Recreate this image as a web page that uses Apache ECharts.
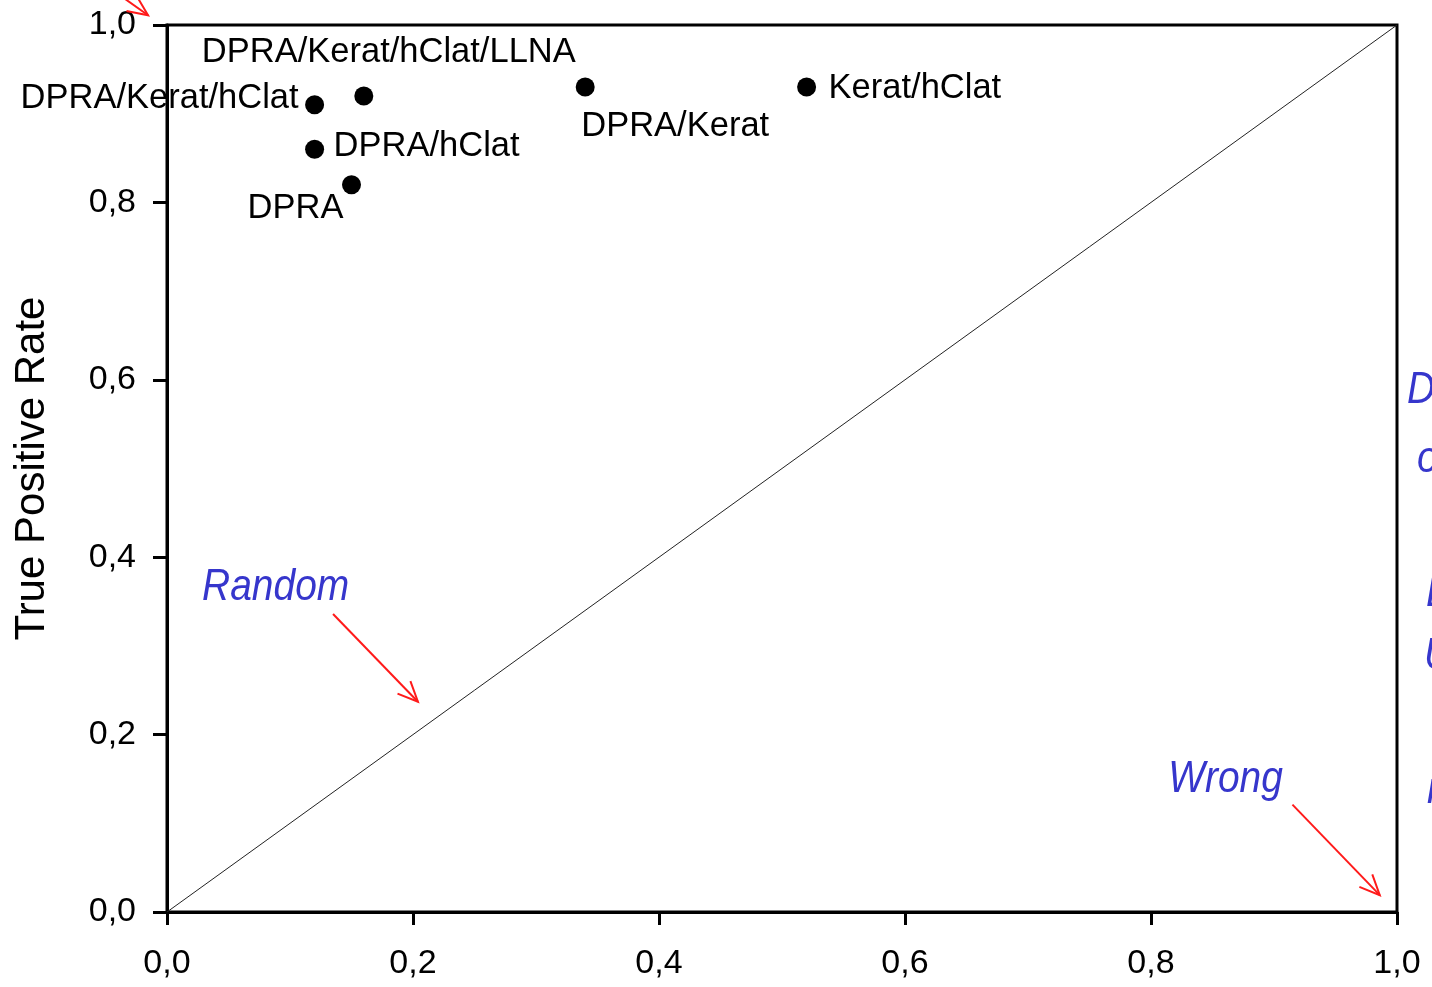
<!DOCTYPE html>
<html>
<head>
<meta charset="utf-8">
<script src="https://cdn.jsdelivr.net/npm/echarts@6/dist/echarts.min.js"></script>
<style>
html,body{margin:0;padding:0;background:#fff;}
#chart{width:1432px;height:987px;}
</style>
</head>
<body>
<div id="chart"></div>
<script>
// ---- data ----
const names = ['DPRA', 'DPRA/hClat', 'DPRA/Kerat/hClat', 'DPRA/Kerat/hClat/LLNA', 'DPRA/Kerat', 'Kerat/hClat'];
const fpr = [0.15, 0.12, 0.12, 0.16, 0.34, 0.52];
const tpr = [0.82, 0.86, 0.91, 0.92, 0.93, 0.93];
const diagonalX = [0, 1];
const diagonalY = [0, 1];
const xTicks = [0, 0.2, 0.4, 0.6, 0.8, 1.0];
const yTicks = [0, 0.2, 0.4, 0.6, 0.8, 1.0];
const yAxisTitle = 'True Positive Rate';
const annotationTexts = ['Random', 'Wrong'];
const annotationTextPos = [[0.0285, 0.365], [0.814, 0.149]];
const arrowFrom = [[0.135, 0.336], [0.915, 0.121], [-0.05, 1.045]];
const arrowTo = [[0.204, 0.237], [0.986, 0.019], [-0.0154, 1.011]];

// ---- label placement (style) ----
const labelStyle = {
  'DPRA': {align: 'center', offset: [-56, 24]},
  'DPRA/hClat': {align: 'left', offset: [19, -3]},
  'DPRA/Kerat/hClat': {align: 'right', offset: [-16, -6]},
  'DPRA/Kerat/hClat/LLNA': {align: 'center', offset: [25, -43]},
  'DPRA/Kerat': {align: 'center', offset: [90, 39]},
  'Kerat/hClat': {align: 'left', offset: [22, 1]}
};

const fmt = v => v.toFixed(1).replace('.', ',');
const FONT = '"Liberation Sans", Arial, sans-serif';

const chart = echarts.init(document.getElementById('chart'), null, {renderer: 'canvas'});

const points = names.map((n, i) => ({
  name: n,
  value: [fpr[i], tpr[i]],
  itemStyle: {color: '#000', opacity: 1},
  label: {
    show: true,
    formatter: n,
    position: 'inside',
    align: labelStyle[n].align,
    verticalAlign: 'middle',
    offset: labelStyle[n].offset,
    color: '#000',
    fontSize: 34.5,
    fontFamily: FONT
  }
}));

chart.setOption({
  animation: false,
  backgroundColor: '#fff',
  grid: {left: 167, right: 35, top: 25, bottom: 75, show: true, borderColor: '#000', borderWidth: 3},
  xAxis: {
    type: 'value', min: 0, max: 1, interval: 0.2,
    axisLine: {show: true, lineStyle: {color: '#000', width: 3}},
    axisTick: {show: true, length: 13, lineStyle: {color: '#000', width: 3}},
    axisLabel: {margin: 35, fontSize: 34, color: '#000', fontFamily: FONT, formatter: v => fmt(v)},
    splitLine: {show: false}
  },
  yAxis: {
    type: 'value', min: 0, max: 1, interval: 0.2,
    name: yAxisTitle, nameLocation: 'middle', nameGap: 114,
    nameTextStyle: {fontSize: 42, color: '#000', fontFamily: FONT},
    axisLine: {show: true, lineStyle: {color: '#000', width: 3}},
    axisTick: {show: true, length: 14, lineStyle: {color: '#000', width: 3}},
    axisLabel: {margin: 31, fontSize: 34, color: '#000', fontFamily: FONT, formatter: v => fmt(v)},
    splitLine: {show: false}
  },
  series: [
    {
      type: 'line',
      data: diagonalX.map((x, i) => [x, diagonalY[i]]),
      symbol: 'none',
      lineStyle: {color: '#222', width: 1},
      silent: true,
      z: 1
    },
    {
      type: 'scatter',
      data: points,
      symbol: 'circle',
      symbolSize: 19,
      itemStyle: {color: '#000', opacity: 1},
      z: 3
    }
  ]
});

function px(p) { return chart.convertToPixel({gridIndex: 0}, p); }

const ANNO_FONT = 'italic 44px "Liberation Sans", Arial, sans-serif';
const graphics = [];
annotationTexts.forEach((t, i) => {
  const p = px(annotationTextPos[i]);
  graphics.push({
    type: 'text', x: p[0], y: p[1], scaleX: 0.885,
    style: {text: t, fill: '#3636cc', font: ANNO_FONT, textVerticalAlign: 'middle', textAlign: 'left'},
    z: 10
  });
});
arrowFrom.forEach((f, i) => {
  const a = px(f), b = px(arrowTo[i]);
  const ang = Math.atan2(b[1] - a[1], b[0] - a[0]);
  const L = 22, spread = 0.42;
  const h1 = [b[0] - L * Math.cos(ang - spread), b[1] - L * Math.sin(ang - spread)];
  const h2 = [b[0] - L * Math.cos(ang + spread), b[1] - L * Math.sin(ang + spread)];
  graphics.push({type: 'polyline', shape: {points: [a, b]}, style: {stroke: '#ff1a1a', lineWidth: 2, fill: null}, z: 10});
  graphics.push({type: 'polyline', shape: {points: [h1, b, h2]}, style: {stroke: '#ff1a1a', lineWidth: 2, fill: null}, z: 10});
});
// clipped side text from the original slide
const sideTexts = [['D', 1407, 391], ['o', 1417, 460], ['L', 1426, 594], ['U', 1424, 657], ['r', 1427, 791]];
sideTexts.forEach(s => {
  graphics.push({
    type: 'text', x: s[1], y: s[2], scaleX: 0.885,
    style: {text: s[0], fill: '#3636cc', font: ANNO_FONT, textVerticalAlign: 'middle', textAlign: 'left'},
    z: 10
  });
});
chart.setOption({graphic: graphics});
</script>
</body>
</html>
